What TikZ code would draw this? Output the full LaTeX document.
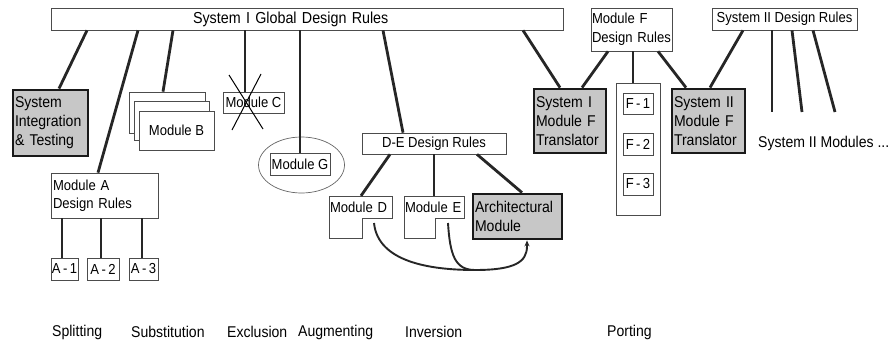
\documentclass[tikz,border=0pt]{standalone}
\usepackage{fontspec}
\setmainfont{Liberation Sans}[FakeStretch=0.9]
\usetikzlibrary{arrows.meta,calc}
\newcommand{\smallfs}{\fontsize{14.5}{18.5}\selectfont}
\newcommand{\bigfs}{\fontsize{15.6}{19}\selectfont}
\newcommand{\topfs}{\fontsize{15.9}{19}\selectfont}
\begin{document}
\begin{tikzpicture}[x=1pt,y=-1pt,
 every node/.style={font=\smallfs, inner sep=0pt},
 box/.style={draw=black!70, line width=0.7pt, fill=white},
 gbox/.style={draw=black!90, line width=2.8pt, fill=black!22, font=\bigfs},
 conn/.style={draw=black!85, line width=2.8pt},
 curve/.style={draw=black!85, line width=1.9pt},
 thin/.style={draw=black!70, line width=0.7pt},
 cross/.style={draw=black, line width=1pt},
 caption/.style={anchor=west, font=\bigfs}
]
\useasboundingbox (0,0) rectangle (893,340);

% ---------- nodes ----------
\node[box, font=\topfs, minimum height=22pt, text width=508pt, inner xsep=2pt, align=left] (top) at (307,19) {\hspace*{140pt}System I Global Design Rules};
\node[box, minimum height=43pt, text width=79pt, inner xsep=1pt, align=left] (fdr) at (631.5,29.5) {Module F\\Design Rules};
\node[box, minimum width=145pt, minimum height=22pt] (s2dr) at (784.5,19) {System II Design Rules};

\node[gbox, minimum height=66pt, text width=71pt, inner xsep=2pt, align=left] (sysint) at (50.5,123) {System\\Integration\\\& Testing};

\node[box, minimum width=76pt, minimum height=41pt] (b1) at (167,112.5) {};
\node[box, minimum width=75pt, minimum height=39pt] (b2) at (171.5,120.5) {};
\node[box, minimum width=75pt, minimum height=39pt] (b3) at (176.5,130.5) {Module B};

\node[box, minimum width=61pt, minimum height=21pt] (modc) at (253.5,102.5) {Module C};

\node[box, minimum width=60pt, minimum height=22pt] (modg) at (300,164) {Module G};
\draw[thin, draw=black!60] (301.5,165) ellipse [x radius=43, y radius=28];

\node[box, minimum height=45pt, text width=103pt, inner xsep=2pt, align=left] (moda) at (104.5,195.5) {Module A\\Design Rules};
\node[box, minimum width=27pt, minimum height=22pt] (a1) at (64.5,269) {A\,-\,1};
\node[box, minimum width=32pt, minimum height=22pt] (a2) at (103,269) {A\,-\,2};
\node[box, minimum width=29pt, minimum height=22pt] (a3) at (143.5,269) {A\,-\,3};

\node[box, minimum width=144pt, minimum height=21pt] (de) at (434,143.5) {D-E Design Rules};

\draw[thin] (329,196) -- (392,196) -- (392,218) -- (362,218) -- (362,238) -- (329,238) -- cycle;
\node[minimum height=22pt, text width=61pt, inner xsep=1pt, align=left] (modd) at (360.5,207) {Module D};
\draw[thin] (404,196) -- (464,196) -- (464,218) -- (435,218) -- (435,238) -- (404,238) -- cycle;
\node[minimum height=22pt, text width=58pt, inner xsep=1pt, align=left] (mode) at (434,207) {Module E};

\node[gbox, minimum height=45pt, text width=85pt, inner xsep=2pt, align=left] (arch) at (517.5,216.5) {Architectural\\Module};

\node[gbox, minimum height=64pt, text width=68pt, inner xsep=2pt, align=left] (t1) at (570,121) {System I\\Module F\\Translator};
\node[gbox, minimum height=64pt, text width=69pt, inner xsep=2pt, align=left] (t2) at (708.5,121) {System II\\Module F\\Translator};

\node[box, minimum width=44pt, minimum height=132pt] (fcol) at (638,149) {};
\node[box, minimum width=30pt, minimum height=21pt] (f1) at (638,103.5) {F\,-\,1};
\node[box, minimum width=30pt, minimum height=22pt] (f2) at (638,144) {F\,-\,2};
\node[box, minimum width=30pt, minimum height=22pt] (f3) at (638,184) {F\,-\,3};

\node[caption] (s2mods) at (758,143) {System II Modules ...};

\node[caption] (c1) at (52,332) {Splitting};
\node[caption] (c2) at (131,332) {Substitution};
\node[caption] (c3) at (227,332) {Exclusion};
\node[caption] (c4) at (298,332) {Augmenting};
\node[caption] (c5) at (405,332) {Inversion};
\node[caption] (c6) at (607,332) {Porting};

% ---------- connectors ----------
\draw[conn] (87,0 |- top.south) -- (59,0 |- sysint.north);
\draw[conn] (138,0 |- top.south) -- (98,0 |- moda.north);
\draw[conn] (173,0 |- top.south) -- (163,0 |- b1.north);
\draw[conn] (245,0 |- top.south) -- (245,0 |- modc.north);
\draw[conn] (300,0 |- top.south) -- (300,0 |- modg.north);
\draw[conn] (383,0 |- top.south) -- (403,0 |- de.north);
\draw[conn] (523,0 |- top.south) -- (560,0 |- t1.north);

\draw[conn] (608,0 |- fdr.south) -- (582,0 |- t1.north);
\draw[conn] (633,0 |- fdr.south) -- (633,0 |- fcol.north);
\draw[conn] (658,0 |- fdr.south) -- (686,0 |- t2.north);
\draw[conn] (743,0 |- s2dr.south) -- (710,0 |- t2.north);

\coordinate (m1) at (772,112);
\coordinate (m2) at (802,112);
\coordinate (m3) at (835,112);
\draw[conn] (772,0 |- s2dr.south) -- (m1);
\draw[conn] (792,0 |- s2dr.south) -- (m2);
\draw[conn] (813,0 |- s2dr.south) -- (m3);

\draw[conn] (62,0 |- moda.south) -- (62,0 |- a1.north);
\draw[conn] (101,0 |- moda.south) -- (101,0 |- a2.north);
\draw[conn] (142,0 |- moda.south) -- (142,0 |- a3.north);

\draw[conn] (390,0 |- de.south) -- (361,0 |- modd.north);
\draw[conn] (434,0 |- de.south) -- (434,0 |- mode.north);
\draw[conn] (477,0 |- de.south) -- (522,0 |- arch.north);

% cross over Module C
\draw[cross] (229,75) -- (263,129);
\draw[cross] (261,74) -- (232,130);

% curved arrows
\coordinate (dstart) at (374,223);
\coordinate (estart) at (448,223);
\coordinate (meet) at (475,270);
\draw[curve] (dstart) .. controls (378,262) and (430,270) .. (meet)
  .. controls (515,270) and (527,262) .. (527,246);
\draw[curve] (estart) .. controls (450,255) and (455,270) .. (meet);
\draw[curve, -{Stealth[length=6pt,width=5pt]}] (527,248) -- (527,0 |- arch.south);
\end{tikzpicture}
\end{document}
